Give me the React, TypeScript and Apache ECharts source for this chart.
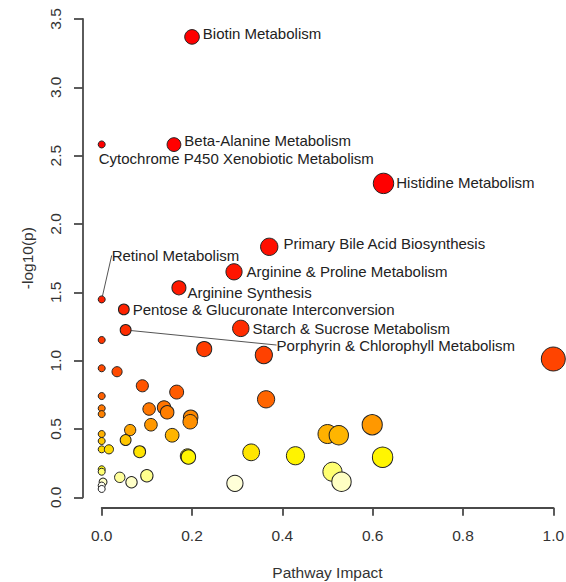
import React, { useEffect, useRef } from "react";
import * as echarts from "echarts";

// Pathway impact (x) and -log10(p) (y) for each pathway
const impact = [
  0.200, 0.160, 0.000, 0.624, 0.371, 0.293, 0.171, 0.000, 0.049, 0.308, 0.053,
  0.000, 0.227, 0.359, 1.000, 0.000, 0.034, 0.090, 0.166, 0.364, 0.000, 0.000,
  0.000, 0.105, 0.138, 0.145, 0.197, 0.196, 0.109, 0.063, 0.053, 0.156, 0.084,
  0.190, 0.192, 0.000, 0.000, 0.000, 0.016, 0.000, 0.000, 0.003, 0.000, 0.000,
  0.040, 0.066, 0.100, 0.295, 0.331, 0.429, 0.500, 0.525, 0.599, 0.622, 0.511,
  0.531,
];
const negLogP = [
  3.369, 2.581, 2.582, 2.297, 1.833, 1.650, 1.533, 1.448, 1.375, 1.236, 1.224,
  1.151, 1.085, 1.041, 1.012, 0.944, 0.919, 0.816, 0.770, 0.717, 0.741, 0.651,
  0.609, 0.646, 0.658, 0.622, 0.585, 0.553, 0.531, 0.492, 0.419, 0.454, 0.334,
  0.302, 0.295, 0.463, 0.412, 0.351, 0.351, 0.205, 0.187, 0.112, 0.086, 0.061,
  0.146, 0.110, 0.158, 0.102, 0.329, 0.304, 0.463, 0.454, 0.531, 0.293, 0.187,
  0.114,
];
const pathwayNames = [
  "Biotin Metabolism",
  "Beta-Alanine Metabolism",
  "Cytochrome P450 Xenobiotic Metabolism",
  "Histidine Metabolism",
  "Primary Bile Acid Biosynthesis",
  "Arginine & Proline Metabolism",
  "Arginine Synthesis",
  "Retinol Metabolism",
  "Pentose & Glucuronate Interconversion",
  "Starch & Sucrose Metabolism",
  "Porphyrin & Chlorophyll Metabolism",
];

const xTitle = "Pathway Impact";
const yTitle = "-log10(p)";

// label placement (style only): [dx, dy] from the default "right" position
const labelShift: Record<string, [number, number]> = {
  "Biotin Metabolism": [-2, -3],
  "Beta-Alanine Metabolism": [-2, -4],
  "Cytochrome P450 Xenobiotic Metabolism": [-12, 14],
  "Histidine Metabolism": [-3, -1],
  "Primary Bile Acid Biosynthesis": [0, -3],
  "Arginine & Proline Metabolism": [-1, 0],
  "Arginine Synthesis": [-4, 5],
  "Retinol Metabolism": [1, -44],
  "Pentose & Glucuronate Interconversion": [-2, 0],
  "Starch & Sucrose Metabolism": [-2, 0],
  "Porphyrin & Chlorophyll Metabolism": [140, 15],
};
const guided = new Set(["Retinol Metabolism", "Porphyrin & Chlorophyll Metabolism"]);

// heat colour ramp by -log10(p)
const stops: [number, number[]][] = [
  [0.06, [255, 255, 255]],
  [0.09, [255, 255, 240]],
  [0.11, [255, 255, 200]],
  [0.15, [255, 255, 150]],
  [0.19, [255, 255, 110]],
  [0.2, [255, 250, 20]],
  [0.3, [255, 245, 0]],
  [0.335, [255, 226, 0]],
  [0.36, [255, 214, 0]],
  [0.42, [255, 198, 0]],
  [0.46, [255, 178, 0]],
  [0.5, [255, 162, 0]],
  [0.53, [255, 152, 0]],
  [0.56, [255, 142, 0]],
  [0.6, [255, 132, 0]],
  [0.65, [255, 118, 0]],
  [0.72, [255, 100, 0]],
  [0.8, [255, 86, 0]],
  [0.92, [255, 74, 0]],
  [1.02, [255, 68, 0]],
  [1.1, [255, 58, 0]],
  [1.23, [255, 44, 0]],
  [1.4, [255, 34, 0]],
  [1.55, [255, 24, 0]],
  [1.8, [255, 16, 0]],
  [2.3, [255, 0, 0]],
];
function heat(v: number): string {
  if (v <= stops[0][0]) return `rgb(${stops[0][1].join(",")})`;
  for (let i = 1; i < stops.length; i++) {
    if (v <= stops[i][0]) {
      const [a, ca] = stops[i - 1];
      const [b, cb] = stops[i];
      const t = (v - a) / (b - a);
      const c = ca.map((x, k) => Math.round(x + (cb[k] - x) * t));
      return `rgb(${c.join(",")})`;
    }
  }
  return `rgb(${stops[stops.length - 1][1].join(",")})`;
}

const FONT = "'Liberation Sans', Arial, Helvetica, sans-serif";
const AXIS_COLOR = "#4a4a4a";

export default function App() {
  const ref = useRef<HTMLDivElement>(null);
  useEffect(() => {
    if (!ref.current) return;
    const chart = echarts.init(ref.current, undefined, { renderer: "svg" });
    const data = impact.map((x, i) => {
      const name = pathwayNames[i] || "";
      return {
        value: [x, negLogP[i]],
        name,
        label: { show: !!name },
        labelLine: { show: guided.has(name) },
      };
    });
    chart.setOption({
      animation: false,
      grid: {
        left: 101.7,
        right: 12.7,
        top: 19,
        bottom: 84.7,
        containLabel: false,
        outerBoundsMode: "none",
      },
      xAxis: {
        type: "value",
        min: 0,
        max: 1,
        interval: 0.2,
        offset: 10.4,
        splitLine: { show: false },
        axisLine: { show: true, onZero: false, lineStyle: { color: AXIS_COLOR, width: 1.8 } },
        axisTick: { show: true, length: 8, lineStyle: { color: AXIS_COLOR, width: 1.8 } },
        axisLabel: {
          margin: 20,
          fontSize: 15.5,
          fontFamily: FONT,
          color: "#333",
          formatter: (v: number) => v.toFixed(1),
        },
        name: xTitle,
        nameLocation: "middle",
        nameGap: 57,
        nameTextStyle: { fontSize: 15.5, fontFamily: FONT, color: "#333" },
      },
      yAxis: {
        type: "value",
        min: 0,
        max: 3.5,
        interval: 0.5,
        offset: 18.7,
        splitLine: { show: false },
        axisLine: { show: true, onZero: false, lineStyle: { color: AXIS_COLOR, width: 1.8 } },
        axisTick: { show: true, length: 9, lineStyle: { color: AXIS_COLOR, width: 1.8 } },
        axisLabel: {
          rotate: 90,
          margin: 20,
          fontSize: 15.5,
          fontFamily: FONT,
          color: "#333",
          formatter: (v: number) => v.toFixed(1),
        },
        name: yTitle,
        nameLocation: "middle",
        nameRotate: 90,
        nameGap: 48,
        nameTextStyle: { fontSize: 15.5, fontFamily: FONT, color: "#333" },
      },
      series: [
        {
          type: "scatter",
          clip: false,
          data,
          symbol: "circle",
          symbolSize: (val: number[]) => 7 + 17 * Math.sqrt(val[0]),
          itemStyle: {
            color: (p: any) => heat(p.value[1]),
            borderColor: "#222",
            borderWidth: 1,
            opacity: 1,
          },
          label: {
            show: false,
            position: "right",
            distance: 5,
            formatter: "{b}",
            fontSize: 15,
            fontFamily: FONT,
            color: "#222",
          },
          labelLine: {
            show: false,
            lineStyle: { color: "#555", width: 1 },
          },
          labelLayout: (params: any) => {
            const n = pathwayNames[params.dataIndex];
            const s = n ? labelShift[n] : undefined;
            return s ? { dx: s[0], dy: s[1] } : {};
          },
          emphasis: { disabled: true },
        },
      ],
    });
    return () => chart.dispose();
  }, []);
  return (
    <div
      ref={ref}
      style={{ position: "fixed", left: 0, top: 0, width: 566, height: 582, background: "#fff" }}
    />
  );
}
